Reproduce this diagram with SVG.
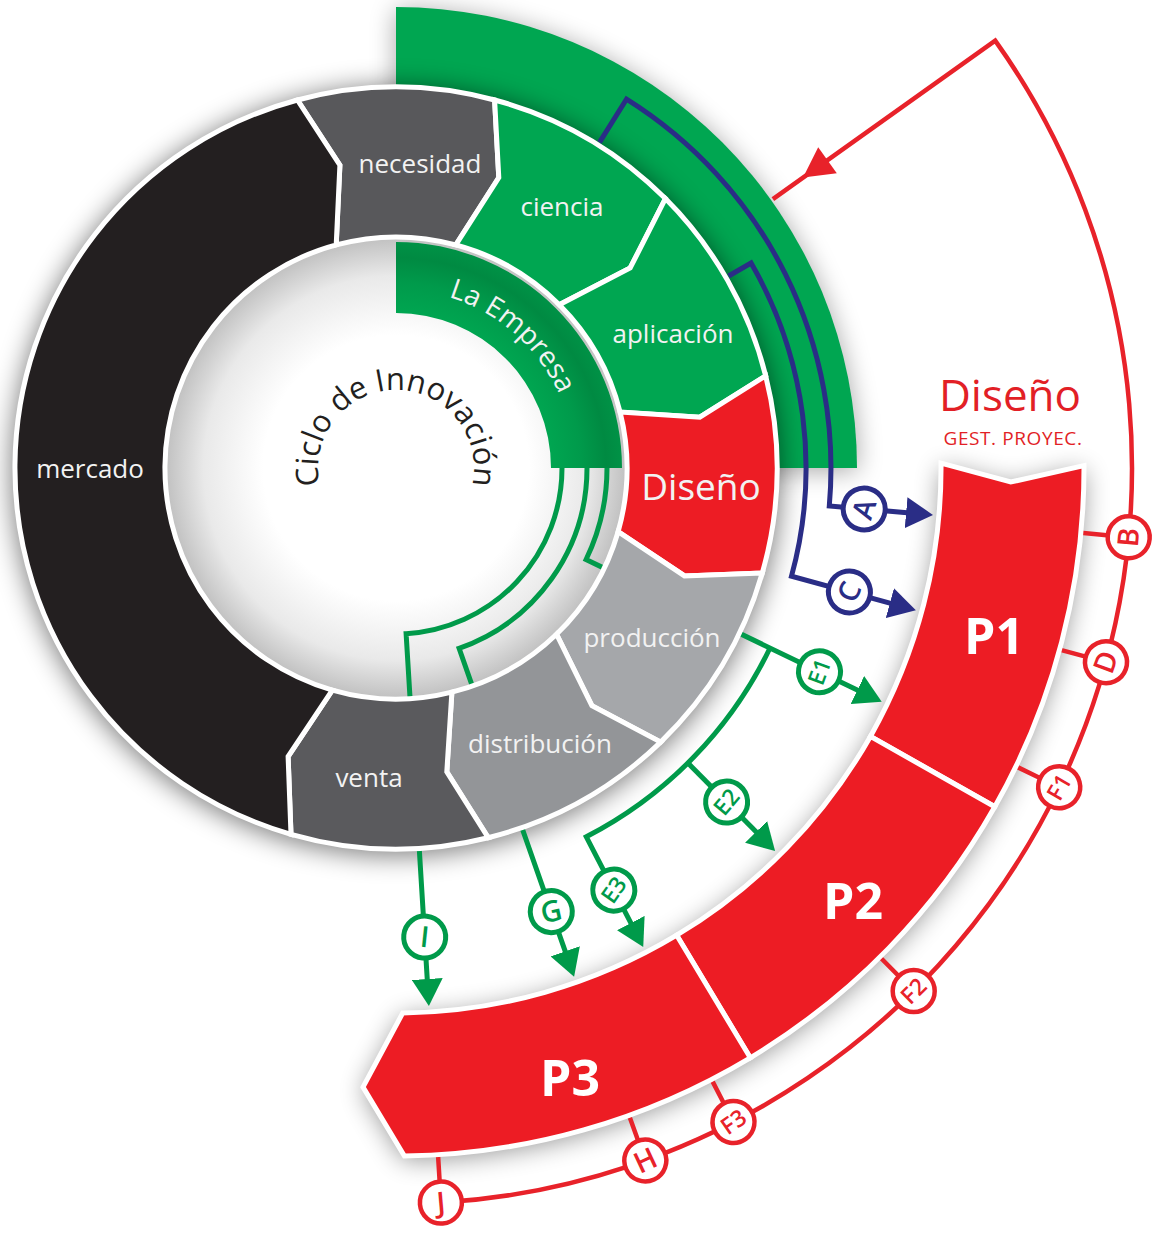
<svg xmlns="http://www.w3.org/2000/svg" width="1158" height="1234" viewBox="0 0 1158 1234">
<defs>
<style>
.seg{stroke:#fff;stroke-width:5;stroke-linejoin:miter}
.lbl{font-family:"Open Sans","DejaVu Sans",sans-serif;font-size:26px;fill:#f2f2f2;text-anchor:middle}
.pb{fill:#ed1c24;stroke:#fff;stroke-width:5;stroke-linejoin:miter}
.pl{font-family:"Open Sans","DejaVu Sans",sans-serif;font-weight:700;font-size:50px;fill:#fff;text-anchor:middle}
.bl{fill:none;stroke:#2a2d86;stroke-width:5}
.gl{fill:none;stroke:#009a4a;stroke-width:5}
.rl{fill:none;stroke:#e8222a;stroke-width:4.5}
.cb{fill:#fff;stroke:#2a2d86;stroke-width:5}
.cg{fill:#fff;stroke:#009a4a;stroke-width:5}
.cr{fill:#fff;stroke:#e8222a;stroke-width:4.5}
.tl{font-family:"Open Sans","DejaVu Sans",sans-serif;font-weight:600;font-size:29px;text-anchor:middle}
.t2{font-size:23px}
.sh{fill:#000;filter:url(#blur)}
</style>
<filter id="blur" x="-30%" y="-30%" width="160%" height="160%"><feGaussianBlur stdDeviation="13"/></filter>
<radialGradient id="gDisk" cx="396" cy="468" r="229" gradientUnits="userSpaceOnUse"><stop offset="0.58" stop-color="#fff"/><stop offset="0.84" stop-color="#e9e9e9"/><stop offset="1" stop-color="#c2c2c2"/></radialGradient>
<radialGradient id="gEmp" cx="396" cy="468" r="226" gradientUnits="userSpaceOnUse"><stop offset="0.68" stop-color="#00a651"/><stop offset="0.82" stop-color="#009a4b"/><stop offset="0.93" stop-color="#008a42"/><stop offset="1" stop-color="#009246"/></radialGradient>
<marker id="mB" viewBox="0 0 27 31" refX="1" refY="15.5" markerWidth="27" markerHeight="31" markerUnits="userSpaceOnUse" orient="auto"><path d="M0,0 L27,15.5 L0,31 Z" fill="#2a2d86"/></marker>
<marker id="mG" viewBox="0 0 27 31" refX="1" refY="15.5" markerWidth="27" markerHeight="31" markerUnits="userSpaceOnUse" orient="auto"><path d="M0,0 L27,15.5 L0,31 Z" fill="#009a4a"/></marker>
<path id="pc" d="M396,546 A78,78 0 1,1 396,390 A78,78 0 1,1 396,546"/>
<path id="pe" d="M396,289 A179,179 0 0,1 575,468"/>
</defs>
<rect width="1158" height="1234" fill="#fff"/>

<!-- shadows + green quarter -->
<path class="sh" opacity=".35" transform="translate(0,3)" d="M396,468 L396,7 A461,461 0 0,1 857,468 Z"/>
<g id="green-quarter">
<path d="M396,468 L396,7 A461,461 0 0,1 857,468 Z" fill="#00a651"/>
</g>
<circle class="sh" opacity=".5" cx="396" cy="471" r="385"/>
<path class="sh" opacity=".42" transform="translate(0,4)" d="M941,463.2 L1010.8,482 L1084,465.6 A688,688 0 0,1 404.4,1156 L363,1087.1 L402.7,1013 A545,545 0 0,0 941,463.2 Z"/>

<!-- inner disk -->
<g id="ciclo">
<circle cx="396" cy="468" r="231" fill="url(#gDisk)"/>
<text font-family="Open Sans, DejaVu Sans, sans-serif" font-size="31" fill="#231f20"><textPath href="#pc" startOffset="50%" text-anchor="middle">Ciclo de Innovación</textPath></text>
</g>
<g id="la-empresa">
<path d="M396,242 A226,226 0 0,1 622,468 L551,468 A155,155 0 0,0 396,313 Z" fill="url(#gEmp)"/>
<text font-family="Open Sans, DejaVu Sans, sans-serif" font-size="28" fill="#f2f2f2"><textPath href="#pe" startOffset="46%" text-anchor="middle">La Empresa</textPath></text>
</g>

<!-- connectors -->
<g id="connectors">
<path class="bl" marker-end="url(#mB)" d="M599.5,142.4 L626.5,99.1 A435,435 0 0,1 829.3,505.9 L907.1,512.7"/>
<path class="bl" marker-end="url(#mB)" d="M728.6,276 L751.1,263 A410,410 0 0,1 791.5,576.2 L890.8,603.4"/>
<path class="gl" marker-end="url(#mG)" d="M562,468 A166,166 0 0,1 406.1,633.7 L427.3,980"/>
<path class="gl" marker-end="url(#mG)" d="M587,468 A191,191 0 0,1 459.1,648.3 L565.5,952.2"/>
<path class="gl" marker-end="url(#mG)" d="M607,468 A211,211 0 0,1 586.1,559.5 L858.3,690.5"/>
<path class="gl" marker-end="url(#mG)" d="M770,648 A415,415 0 0,1 586.3,836.8 L631.3,923.9"/>
<path class="gl" marker-end="url(#mG)" d="M687.9,763 L756.8,832.6"/>
<path class="rl" d="M772.9,199.1 L995.2,40.6 A736,736 0 0,1 440.9,1202.6"/>
<polygon fill="#e8222a" points="803.1,177.6 836.8,173.2 818.2,147.2"/>
<path class="rl" d="M1080.9,532.7 L1106.8,535.2 M1059.6,649.6 L1084.7,656.4 M1016,766.4 L1039.4,777.7 M879.9,957 L898.2,975.5 M711.5,1079.4 L723.4,1102.5 M629,1115.3 L637.8,1139.8 M438,1154.7 L439.6,1180.6"/>
</g>

<!-- outer ring -->
<g id="necesidad"><path class="seg" fill="#58585b" d="M297.4,100 A381,381 0 0,1 494.6,100 L498.8,177.7 L455.8,244.9 A231,231 0 0,0 336.2,244.9 L339.9,165.1 Z"/><text class="lbl" x="420" y="173">necesidad</text></g>
<g id="ciencia"><path class="seg" fill="#00a651" d="M494.6,100 A381,381 0 0,1 665.4,198.6 L630.2,268 L559.3,304.7 A231,231 0 0,0 455.8,244.9 L498.8,177.7 Z"/><text class="lbl" x="562" y="216">ciencia</text></g>
<g id="aplicacion"><path class="seg" fill="#00a651" d="M665.4,198.6 A381,381 0 0,1 765.7,375.8 L699.8,417.2 L620.1,412.1 A231,231 0 0,0 559.3,304.7 L630.2,268 Z"/><text class="lbl" x="673" y="343">aplicación</text></g>
<g id="diseno"><path class="seg" fill="#ed1c24" d="M765.7,375.8 A381,381 0 0,1 762.3,573 L684.5,575.9 L618.1,531.7 A231,231 0 0,0 620.1,412.1 L699.8,417.2 Z"/><text class="lbl" x="701" y="500" style="font-size:37px">Diseño</text></g>
<g id="produccion"><path class="seg" fill="#a5a7aa" d="M762.3,573 A381,381 0 0,1 660.7,742.1 L591.9,705.7 L556.5,634.2 A231,231 0 0,0 618.1,531.7 L684.5,575.9 Z"/><text class="lbl" x="652" y="647">producción</text></g>
<g id="distribucion"><path class="seg" fill="#939598" d="M660.7,742.1 A381,381 0 0,1 488.2,837.7 L446.8,771.8 L451.9,692.1 A231,231 0 0,0 556.5,634.2 L591.9,705.7 Z"/><text class="lbl" x="540" y="753">distribución</text></g>
<g id="venta"><path class="seg" fill="#5a5a5d" d="M488.2,837.7 A381,381 0 0,1 291,834.3 L288.1,756.5 L332.3,690.1 A231,231 0 0,0 451.9,692.1 L446.8,771.8 Z"/><text class="lbl" x="369" y="787">venta</text></g>
<g id="mercado"><path class="seg" fill="#231f20" d="M291,834.3 A381,381 0 0,1 297.4,100 L339.9,165.1 L336.2,244.9 A231,231 0 0,0 332.3,690.1 L288.1,756.5 Z"/><text class="lbl" x="90" y="478">mercado</text></g>

<!-- project band -->
<g id="P1"><path class="pb" d="M941,463.2 L1010.8,482 L1084,465.6 A688,688 0 0,1 994.8,806.8 L870.4,736.4 A545,545 0 0,0 941,463.2 Z"/><text class="pl" x="994" y="654">P1</text></g>
<g id="P2"><path class="pb" d="M870.4,736.4 L994.8,806.8 A688,688 0 0,1 750.3,1057.8 L676.7,935.2 A545,545 0 0,0 870.4,736.4 Z"/><text class="pl" x="853" y="919">P2</text></g>
<g id="P3"><path class="pb" d="M676.7,935.2 L750.3,1057.8 A688,688 0 0,1 404.4,1156 L363,1087.1 L402.7,1013 A545,545 0 0,0 676.7,935.2 Z"/><text class="pl" x="570" y="1096">P3</text></g>

<g id="titulo-diseno">
<text x="1010" y="411" font-family="Open Sans, DejaVu Sans, sans-serif" font-size="44" fill="#e21f26" text-anchor="middle">Diseño</text>
<text x="1013" y="445" font-family="Open Sans, DejaVu Sans, sans-serif" font-size="19" letter-spacing="0.6" fill="#e21f26" text-anchor="middle">GEST. PROYEC.</text>
</g>

<!-- connector labels -->
<g id="labels">
<g transform="translate(864.2,509) rotate(-72)"><circle r="21" class="cb"/><text class="tl" y="10" fill="#2a2d86">A</text></g>
<g transform="translate(849.4,592) rotate(-65)"><circle r="21" class="cb"/><text class="tl" y="10" fill="#2a2d86">C</text></g>
<g transform="translate(819.5,671.8) rotate(-70)"><circle r="21" class="cg"/><text class="tl t2" y="8" fill="#009a4a">E1</text></g>
<g transform="translate(726.6,802.1) rotate(-50)"><circle r="21" class="cg"/><text class="tl t2" y="8" fill="#009a4a">E2</text></g>
<g transform="translate(613.8,890.1) rotate(-55)"><circle r="21" class="cg"/><text class="tl t2" y="8" fill="#009a4a">E3</text></g>
<g transform="translate(551.3,911.6) rotate(-12)"><circle r="21" class="cg"/><text class="tl" y="10" fill="#009a4a">G</text></g>
<g transform="translate(424.7,937.1) rotate(6)"><circle r="21" class="cg"/><text class="tl" y="10" fill="#009a4a">I</text></g>
<g transform="translate(1128.7,537.3) rotate(-85)"><circle r="21" class="cr"/><text class="tl" y="10" fill="#e8222a">B</text></g>
<g transform="translate(1106,662.2) rotate(-70)"><circle r="21" class="cr"/><text class="tl" y="10" fill="#e8222a">D</text></g>
<g transform="translate(1059.2,787.2) rotate(-60)"><circle r="21" class="cr"/><text class="tl t2" y="8" fill="#e8222a">F1</text></g>
<g transform="translate(913.7,991.1) rotate(-45)"><circle r="21" class="cr"/><text class="tl t2" y="8" fill="#e8222a">F2</text></g>
<g transform="translate(733.5,1122) rotate(-35)"><circle r="21" class="cr"/><text class="tl t2" y="8" fill="#e8222a">F3</text></g>
<g transform="translate(645.3,1160.5) rotate(-25)"><circle r="21" class="cr"/><text class="tl" y="10" fill="#e8222a">H</text></g>
<g transform="translate(440.9,1202.6) rotate(-5)"><circle r="21" class="cr"/><text class="tl" y="10" fill="#e8222a">J</text></g>
</g>
</svg>
